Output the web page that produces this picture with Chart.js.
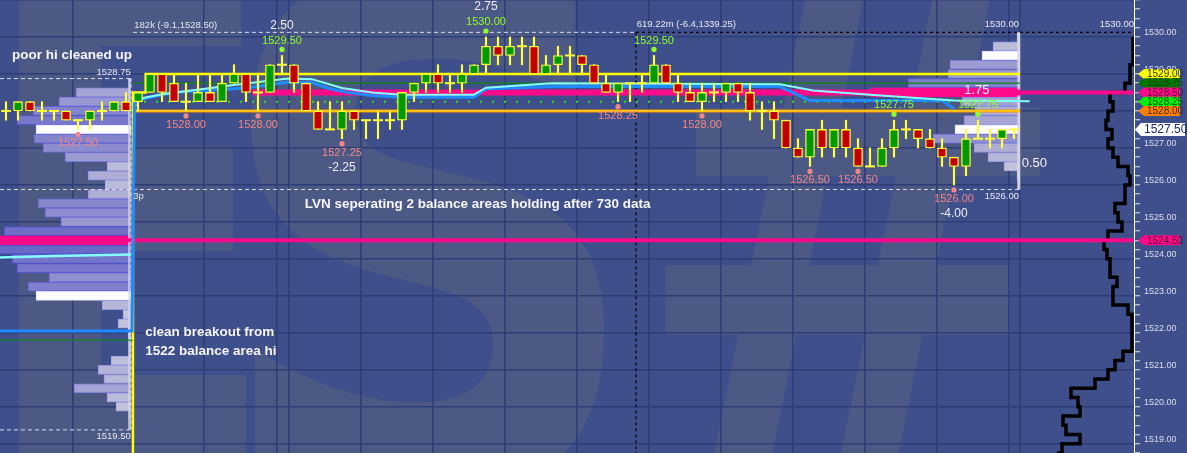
<!DOCTYPE html>
<html>
<head>
<meta charset="utf-8">
<title>ES market profile</title>
<script src="https://cdn.jsdelivr.net/npm/chart.js@4.4.1/dist/chart.umd.min.js"></script>
<style>
  html, body { margin: 0; padding: 0; background: #3e4f8b; overflow: hidden; }
</style>
</head>
<body>
<canvas id="chart" width="1187" height="453"></canvas>
<script>
// one bar per slot, index 0 = first bar on screen
const opens = [
  1528, 1528, 1528.25, 1528, 1528, 1528, 1527.75, 1527.75, 1528, 1528,
  1528.25, 1528.25, 1528.5, 1529, 1528.75, 1528.25, 1528.25, 1528.5, 1528.25, 1528.75,
  1529, 1528.5, 1528.5, 1529.25, 1529.25, 1528.75, 1528, 1527.5, 1527.5, 1528,
  1527.75, 1527.75, 1527.75, 1527.75, 1528.5, 1528.75, 1529, 1528.75, 1528.75, 1529,
  1529.25, 1529.75, 1529.5, 1529.75, 1529.75, 1529, 1529.25, 1529.5, 1529.5, 1529.25,
  1528.75, 1528.5, 1528.75, 1528.75, 1528.75, 1529.25, 1528.75, 1528.5, 1528.25, 1528.5,
  1528.5, 1528.75, 1528.5, 1528, 1528, 1527.75, 1527, 1526.75, 1527.5, 1527,
  1527.5, 1527, 1526.5, 1526.5, 1527, 1527.5, 1527.5, 1527.25, 1527, 1526.75,
  1526.5, 1527.25, 1527.25, 1527.25, 1527.5
];
const highs = [
  1528.25, 1528.25, 1528.25, 1528.25, 1528, 1528, 1527.75, 1528, 1528.25, 1528.25,
  1528.5, 1528.5, 1529, 1529, 1529, 1528.75, 1529, 1529, 1529, 1529.25,
  1529, 1529, 1529.25, 1529.5, 1529.25, 1528.75, 1528.25, 1528.25, 1528.25, 1528,
  1527.75, 1528, 1528, 1528.5, 1528.75, 1529, 1529.25, 1529, 1529.25, 1529.25,
  1530, 1530, 1530, 1530, 1530, 1529.5, 1529.75, 1529.75, 1529.5, 1529.25,
  1529, 1528.75, 1528.75, 1529, 1529.5, 1529.25, 1529, 1528.75, 1528.75, 1528.75,
  1528.75, 1528.75, 1528.75, 1528.25, 1528.25, 1527.75, 1527.25, 1527.5, 1527.75, 1527.5,
  1527.75, 1527.25, 1527, 1527.25, 1527.75, 1527.75, 1527.5, 1527.5, 1527.25, 1526.75,
  1527.5, 1527.75, 1527.5, 1527.5, 1527.5
];
const lows = [
  1527.75, 1527.75, 1528, 1527.75, 1527.75, 1527.75, 1527.5, 1527.5, 1527.75, 1528,
  1528, 1528, 1528.5, 1528.25, 1528.25, 1528, 1528.25, 1528.25, 1528.25, 1528.75,
  1528.25, 1528, 1528.5, 1529, 1528.5, 1528, 1527.5, 1527.5, 1527.25, 1527.5,
  1527.25, 1527.25, 1527.5, 1527.5, 1528.25, 1528.5, 1528.5, 1528.5, 1528.5, 1529,
  1529, 1529.25, 1529.25, 1529.25, 1529, 1529, 1529, 1529, 1529, 1528.75,
  1528.5, 1528.25, 1528.25, 1528.5, 1528.75, 1528.75, 1528.25, 1528.25, 1528, 1528.25,
  1528.25, 1528.25, 1527.75, 1527.5, 1527.25, 1527, 1526.75, 1526.5, 1526.75, 1526.75,
  1526.75, 1526.5, 1526.5, 1526.5, 1526.75, 1527.25, 1527, 1527, 1526.5, 1526,
  1526.25, 1527.25, 1527, 1527, 1527.25
];
const closes = [
  1528, 1528.25, 1528, 1528, 1528, 1527.75, 1527.75, 1528, 1528, 1528.25,
  1528, 1528.5, 1529, 1528.5, 1528.25, 1528.25, 1528.5, 1528.25, 1528.75, 1529,
  1528.5, 1528.5, 1529.25, 1529.25, 1528.75, 1528, 1527.5, 1527.5, 1528, 1527.75,
  1527.75, 1527.75, 1527.75, 1528.5, 1528.75, 1529, 1528.75, 1528.75, 1529, 1529.25,
  1529.75, 1529.5, 1529.75, 1529.75, 1529, 1529.25, 1529.5, 1529.5, 1529.25, 1528.75,
  1528.5, 1528.75, 1528.75, 1528.75, 1529.25, 1528.75, 1528.5, 1528.25, 1528.5, 1528.5,
  1528.75, 1528.5, 1528, 1528, 1527.75, 1527, 1526.75, 1527.5, 1527, 1527.5,
  1527, 1526.5, 1526.5, 1527, 1527.5, 1527.5, 1527.25, 1527, 1526.75, 1526.5,
  1527.25, 1527.25, 1527.25, 1527.5, 1527.5
];

// previous session profile (left)
const leftLevels = [
  1528.75, 1528.5, 1528.25, 1528, 1527.75, 1527.5, 1527.25, 1527, 1526.75, 1526.5,
  1526.25, 1526, 1525.75, 1525.5, 1525.25, 1525, 1524.75, 1524.5, 1524.25, 1524,
  1523.75, 1523.5, 1523.25, 1523, 1522.75, 1522.5, 1522.25, 1522, 1521.75, 1521.5,
  1521.25, 1521, 1520.75, 1520.5, 1520.25, 1520, 1519.75, 1519.5
];
const leftVol = [
  2, 55, 72, 98, 114, 95, 97, 88, 66, 24,
  43, 26, 43, 93, 86, 70, 127, 140, 135, 119,
  114, 82, 103, 95, 29, 8, 13, 3, 2, 2,
  20, 33, 27, 57, 24, 15, 2, 1
];
const leftPoc = 1524.5;
const leftMarked = [1527.5, 1523];

// current session profile (right)
const rightLevels = [1530, 1529.75, 1529.5, 1529.25, 1529, 1528.75, 1528.5, 1528.25, 1528,
  1527.75, 1527.5, 1527.25, 1527, 1526.75, 1526.5, 1526.25, 1526];
const rightVol = [3, 27, 38, 70, 72, 112, 149, 58, 45, 56, 65, 87, 46, 32, 16, 3, 2];
const rightPoc = 1528.5;
const rightMarked = [1529.5, 1527.5];

// composite profile outline (far right)
const compLevels = [
  1530, 1529.75, 1529.5, 1529.25, 1529, 1528.75, 1528.5, 1528.25, 1528, 1527.75,
  1527.5, 1527.25, 1527, 1526.75, 1526.5, 1526.25, 1526, 1525.75, 1525.5, 1525.25,
  1525, 1524.75, 1524.5, 1524.25, 1524, 1523.75, 1523.5, 1523.25, 1523, 1522.75,
  1522.5, 1522.25, 1522, 1521.75, 1521.5, 1521.25, 1521, 1520.75, 1520.5, 1520.25,
  1520, 1519.75, 1519.5, 1519.25, 1519, 1518.75
];
const compVol = [
  1, 1, 1, 4, 4, 9, 24, 21, 26, 28,
  22, 26, 21, 16, 6, 4, 9, 9, 19, 16,
  12, 26, 30, 27, 24, 24, 17, 21, 21, 6,
  2, 2, 2, 2, 11, 19, 26, 39, 63, 56,
  54, 71, 68, 54, 72, 77
];

// vwap style lines, [bar, price]
const vwapBlue = [[-0.5, 1522.05], [10.5, 1522.05], [10.6, 1525], [10.7, 1528.2], [11, 1528.28], [12, 1528.37],
  [14, 1528.5], [19, 1528.6], [21, 1528.66], [23.5, 1528.78], [25.5, 1528.77], [27, 1528.6], [28.5, 1528.5],
  [30.5, 1528.42], [33, 1528.37], [39, 1528.37], [40, 1528.6], [46, 1528.66], [64.5, 1528.66], [67, 1528.28],
  [78, 1528.28], [79, 1528.06]];
const vwapCyan = [[11, 1528.32], [13, 1528.45], [19, 1528.7], [23.5, 1528.88], [25.5, 1528.86], [28, 1528.62],
  [30.5, 1528.5], [33, 1528.44], [39, 1528.44], [40, 1528.63], [45.5, 1528.75], [64.5, 1528.72],
  [67.25, 1528.55], [72, 1528.44], [75, 1528.37], [79, 1528.28], [85.3, 1528.26]];
const prevCyan = [[-0.5, 1524.04], [4, 1524.08], [10.4, 1524.12]];
const prevGreen = [[-0.5, 1521.8], [10.58, 1521.8]];
const ibHighPath = [[10.58, 1518.75], [10.58, 1528.5], [11.64, 1528.5], [11.64, 1529], [84.5, 1529]];

const swingHighBars = [23, 40, 54, 74, 81];
const swingHighDeltas = ['2.50', '2.75', '', '', ''];
const swingLowBars = [6, 15, 21, 28, 51, 58, 67, 71, 79];
const swingLowDeltas = ['', '', '', '-2.25', '', '', '', '', '-4.00'];

const tagPrices = [1529.00, 1528.75, 1528.50, 1528.25, 1528.00, 1527.50, 1524.50];
const tagFill = ['#ffff00', '#007800', '#ff0a8a', '#00ee00', '#ff8000', '#ffffff', '#ff0a8a'];
const tagInk = ['#303030', '#0c3c0c', '#5a0636', '#0a4a0a', '#4a2500', '#1b2a6b', '#5a0636'];
const CURRENT_TAG = 5;

const xGrid = [5.58, 16.5, 22.58, 23.55, 29.58, 35.58, 41.58, 47.58, 53.58, 59.58, 65.58, 71.58, 77.58, 83.58, 84.5];

const notes = [
  { text: 'poor hi cleaned up', bar: 0.5, price: 1529.5 },
  { text: 'LVN seperating 2 balance areas holding after 730 data', bar: 24.9, price: 1525.47 },
  { text: 'clean breakout from', bar: 11.6, price: 1522.02 },
  { text: '1522 balance area hi', bar: 11.6, price: 1521.51 }
];
const infoLabels = [
  { text: '182k (-9.1,1528.50)', bar: 10.69, price: 1530.31, align: 'left' },
  { text: '619.22m (-6.4,1339.25)', bar: 52.56, price: 1530.33, align: 'left' },
  { text: '1530.00', bar: 84.42, price: 1530.33, align: 'right' },
  { text: '1530.00', bar: 94, price: 1530.33, align: 'right' },
  { text: '1526.00', bar: 84.42, price: 1525.7, align: 'right' },
  { text: '1528.75', bar: 10.4, price: 1529.05, align: 'right' },
  { text: '1519.50', bar: 10.4, price: 1519.21, align: 'right' },
  { text: '3p', bar: 10.6, price: 1525.69, align: 'left' }
];
const hiddenLabels = [
  { text: '1528.50', bar: 10.9, price: 1528.15, align: 'right' }
];
const bigLabels = [
  { text: '1.75', bar: 80.9, price: 1528.55, align: 'center' },
  { text: '0.50', bar: 84.64, price: 1526.59, align: 'left' }
];

// watermark logo glyphs and the boxes they fill (canvas px)
const watermark = [
  { ch: 'E', box: [18, -60, 246, 480] },
  { ch: 'S', box: [250, -40, 606, 500] },
  { ch: '#', box: [664, -15, 1040, 462] }
];

const X_MIN = -0.5, X_MAX = 94, Y_MIN = 1518.75, Y_MAX = 1531;
const R_ANCHOR = 84.5, L_ANCHOR = 10.42;
const U = 12; // profile units per bar slot

const BG = '#3e4f8b', GRID = '#2f3d77';
const UP = '#009a00', DN = '#c20000', WICK = '#ffff3c';
const HI_COL = '#8cff28', LO_COL = '#f48888';

Chart.defaults.font.family = '"Liberation Sans", Arial, sans-serif';

const idx = opens.map((_, i) => i);
const pts = arr => arr.map(p => ({ x: p[0], y: p[1] }));

function line(points, color, width, order, extra) {
  return Object.assign({
    type: 'line', data: points, borderColor: color, borderWidth: width,
    pointRadius: 0, fill: false, tension: 0, order, xAxisID: 'x', yAxisID: 'y'
  }, extra || {});
}
function hline(price, from, to, color, width, order, dash) {
  return line([{ x: from, y: price }, { x: to, y: price }], color, width, order, { borderDash: dash || [] });
}
function vline(bar, from, to, color, width, order, dash) {
  return line([{ x: bar, y: from }, { x: bar, y: to }], color, width, order, { borderDash: dash || [] });
}

function shade(v, maxV, light) {
  const t = Math.min(1, v / maxV);
  if (light) return `rgb(${Math.round(175 - 110 * t)},${Math.round(175 - 110 * t)},${Math.round(228 - 20 * t)})`;
  return `rgb(${Math.round(205 - 105 * t)},${Math.round(205 - 105 * t)},${Math.round(222 - 25 * t)})`;
}

function profile(levels, vols, axisId, poc, marked, order) {
  const maxV = Math.max(...vols);
  return {
    type: 'bar', indexAxis: 'y', xAxisID: axisId, yAxisID: 'y', grouped: false, order,
    data: levels.map((p, k) => ({ y: p, x: [0, vols[k]] })),
    barThickness: 9, borderWidth: 1, borderSkipped: false,
    backgroundColor: c => {
      const p = levels[c.dataIndex];
      if (p === poc) return '#ff0a8a';
      if (marked.includes(p)) return '#ffffff';
      return shade(vols[c.dataIndex], maxV, false);
    },
    borderColor: c => {
      const p = levels[c.dataIndex];
      if (p === poc) return '#ff0a8a';
      if (marked.includes(p)) return '#d8d8ff';
      return shade(vols[c.dataIndex], maxV, true);
    }
  };
}

function profileAxis(anchor) {
  return {
    type: 'linear', display: false, reverse: true, offset: false, beginAtZero: false,
    min: -(X_MAX - anchor) * U, max: (anchor - X_MIN) * U, grid: { offset: false }
  };
}

const isWhole = v => Math.abs(v - Math.round(v)) < 1e-6;

function drawText(c, s, x, y, color, font, align) {
  c.font = font;
  c.fillStyle = color;
  c.textAlign = align;
  c.textBaseline = 'middle';
  c.fillText(s, x, y);
}
function dot(c, x, y, color) {
  c.beginPath();
  c.arc(x, y, 2.6, 0, Math.PI * 2);
  c.fillStyle = color;
  c.fill();
}
// stretch one glyph so its ink fills the given box
function glyph(c, ch, box) {
  c.font = 'bold 200px "DejaVu Sans"';
  c.textAlign = 'left';
  c.textBaseline = 'alphabetic';
  const m = c.measureText(ch);
  const gw = m.actualBoundingBoxLeft + m.actualBoundingBoxRight;
  const gh = m.actualBoundingBoxAscent + m.actualBoundingBoxDescent;
  c.save();
  c.translate(box[0], box[1]);
  c.scale((box[2] - box[0]) / gw, (box[3] - box[1]) / gh);
  c.fillText(ch, m.actualBoundingBoxLeft, m.actualBoundingBoxAscent);
  c.restore();
}

const overlay = {
  id: 'overlay',
  beforeDraw(chart) {
    const c = chart.ctx, a = chart.chartArea;
    c.save();
    c.fillStyle = BG;
    c.fillRect(0, 0, chart.width, chart.height);
    c.beginPath();
    c.rect(a.left, a.top, a.right - a.left, a.bottom - a.top);
    c.clip();
    c.fillStyle = 'rgba(112,112,118,0.3)';
    watermark.forEach(w => glyph(c, w.ch, w.box));
    c.restore();
  },
  beforeDatasetsDraw(chart) {
    const c = chart.ctx, sx = chart.scales.x, sy = chart.scales.y;
    c.save();
    hiddenLabels.forEach(l => drawText(c, l.text, sx.getPixelForValue(l.bar), sy.getPixelForValue(l.price),
      '#e8e8f2', '9.5px "Liberation Sans"', l.align));
    c.restore();
  },
  afterDatasetsDraw(chart) {
    const c = chart.ctx, sx = chart.scales.x, sy = chart.scales.y;
    const X = v => sx.getPixelForValue(v), Y = v => sy.getPixelForValue(v);
    c.save();
    swingHighBars.forEach((b, k) => {
      const px = X(b), py = Y(highs[b]);
      dot(c, px, py - 6, HI_COL);
      drawText(c, highs[b].toFixed(2), px, py - 15, HI_COL, '11px "Liberation Sans"', 'center');
      if (swingHighDeltas[k]) drawText(c, swingHighDeltas[k], px, py - 30, '#eeeef6', '12px "Liberation Sans"', 'center');
    });
    swingLowBars.forEach((b, k) => {
      const px = X(b), py = Y(lows[b]);
      dot(c, px, py + 5, LO_COL);
      drawText(c, lows[b].toFixed(2), px, py + 14, LO_COL, '11px "Liberation Sans"', 'center');
      if (swingLowDeltas[k]) drawText(c, swingLowDeltas[k], px, py + 29, '#eeeef6', '12px "Liberation Sans"', 'center');
    });
    infoLabels.forEach(l => drawText(c, l.text, X(l.bar), Y(l.price), '#e8e8f2', '9.5px "Liberation Sans"', l.align));
    bigLabels.forEach(l => drawText(c, l.text, X(l.bar), Y(l.price), '#f2f2fa', '13px "Liberation Sans"', l.align));
    notes.forEach(n => drawText(c, n.text, X(n.bar), Y(n.price), '#f6f6ff', 'bold 13.5px "Liberation Sans"', 'left'));
    c.restore();
  },
  afterDraw(chart) {
    const c = chart.ctx, sy = chart.scales.y, right = chart.chartArea.right;
    c.save();
    tagPrices.forEach((p, k) => {
      const big = k === CURRENT_TAG;
      const yc = sy.getPixelForValue(p);
      const h = big ? 13 : 10;
      const x0 = right + (big ? 1 : 4), x1 = right + (big ? 51 : 46);
      c.beginPath();
      c.moveTo(x0, yc);
      c.lineTo(x0 + 6, yc - h / 2);
      c.lineTo(x1, yc - h / 2);
      c.lineTo(x1, yc + h / 2);
      c.lineTo(x0 + 6, yc + h / 2);
      c.closePath();
      c.fillStyle = tagFill[k];
      c.fill();
      drawText(c, p.toFixed(2), x0 + 9, yc + 0.5, tagInk[k], (big ? 12 : 10) + 'px "Liberation Sans"', 'left');
    });
    c.restore();
  }
};

const datasets = [
  // candles
  {
    type: 'scatter', order: 1, xAxisID: 'x', yAxisID: 'y',
    data: idx.filter(i => opens[i] === closes[i]).map(i => ({ x: i, y: closes[i] })),
    pointStyle: 'line', pointRadius: 5, borderColor: WICK, borderWidth: 2, backgroundColor: WICK
  },
  {
    type: 'bar', order: 2, xAxisID: 'x', yAxisID: 'y', grouped: false,
    data: idx.filter(i => opens[i] !== closes[i]).map(i => ({ x: i, y: [opens[i], closes[i]] })),
    barThickness: 9, borderWidth: 1.3, borderSkipped: false, borderColor: WICK,
    backgroundColor: c => (c.raw && c.raw.y[1] > c.raw.y[0]) ? UP : DN
  },
  {
    type: 'bar', order: 3, xAxisID: 'x', yAxisID: 'y', grouped: false,
    data: idx.map(i => ({ x: i, y: [lows[i], highs[i]] })),
    barThickness: 1.5, borderWidth: 0, backgroundColor: WICK
  },
  // lines
  line(pts(vwapCyan), '#86ffff', 2, 10),
  line(pts(vwapBlue), '#1e8cff', 3, 11),
  line(pts(prevCyan), '#86ffff', 2.5, 12),
  line(pts(prevGreen), '#0a8a0a', 1, 12),
  line(pts(ibHighPath), '#ffff00', 2.5, 13),
  hline(1528, 10.58, 84.5, '#ffee20', 1, 13),
  hline(1528, 10.58, 84.5, '#ff9400', 3, 14),
  hline(1528.75, 10.58, 84.5, '#0a8a0a', 1.2, 14),
  hline(1528.25, 11.5, 84.5, '#28e028', 2, 14, [2, 10]),
  hline(1528.5, 20.5, R_ANCHOR, '#ff0a8a', 6, 15),
  hline(1528.5, R_ANCHOR, X_MAX, '#ff0a8a', 4, 15),
  hline(1524.5, X_MIN, X_MAX, '#ff0a8a', 4, 15),
  hline(1530.125, 10.58, 52.5, 'rgba(235,235,245,0.9)', 1, 16, [4, 3]),
  hline(1530.125, 52.5, X_MAX, '#000000', 1.2, 16, [3, 3]),
  vline(52.5, 1530.125, Y_MIN, '#000000', 1.2, 16, [3, 3]),
  hline(1525.875, X_MIN, R_ANCHOR, 'rgba(235,235,245,0.9)', 1, 16, [4, 3]),
  hline(1528.875, X_MIN, L_ANCHOR, 'rgba(235,235,245,0.9)', 1, 16, [4, 3]),
  hline(1519.375, X_MIN, L_ANCHOR, 'rgba(235,235,245,0.9)', 1, 16, [4, 3]),
  vline(L_ANCHOR, 1528.875, 1519.375, 'rgba(235,235,245,0.9)', 1, 16, [3, 3]),
  vline(R_ANCHOR - 0.1, 1530.125, 1525.875, 'rgba(215,215,228,0.9)', 3, 17),
  vline(L_ANCHOR - 0.15, 1528.875, 1519.375, 'rgba(215,215,228,0.7)', 2.5, 17),
  // composite outline
  {
    type: 'line', order: 18, xAxisID: 'xC', yAxisID: 'y',
    data: compLevels.map((p, k) => ({ x: compVol[k], y: p })),
    borderColor: '#000000', borderWidth: 3.5, pointRadius: 0, stepped: 'after', fill: false
  },
  // profiles
  profile(rightLevels, rightVol, 'xR', rightPoc, rightMarked, 50),
  profile(leftLevels, leftVol, 'xL', leftPoc, leftMarked, 51)
];

new Chart(document.getElementById('chart'), {
  type: 'scatter',
  data: { datasets },
  options: {
    responsive: false,
    animation: false,
    events: [],
    layout: { padding: 0, autoPadding: false },
    plugins: { legend: { display: false }, tooltip: { enabled: false } },
    scales: {
      x: {
        type: 'linear', min: X_MIN, max: X_MAX, offset: false, beginAtZero: false,
        afterBuildTicks: s => { s.ticks = xGrid.map(v => ({ value: v })); },
        ticks: { display: false },
        grid: { color: GRID, drawTicks: false, offset: false, lineWidth: 1.5 },
        border: { display: false },
        afterFit: s => { s.height = 0; s.paddingLeft = 0; s.paddingRight = 0; }
      },
      xR: profileAxis(R_ANCHOR),
      xL: profileAxis(L_ANCHOR),
      xC: profileAxis(X_MAX),
      y: {
        type: 'linear', position: 'right', min: Y_MIN, max: Y_MAX, offset: false, beginAtZero: false,
        ticks: {
          stepSize: 0.25, autoSkip: false, color: '#dedeee', padding: 4, labelOffset: -4,
          font: { size: 9 },
          callback: v => (isWhole(v) && v <= 1530.5) ? Number(v).toFixed(2) : ''
        },
        grid: {
          offset: false, lineWidth: 1.5, tickLength: 6, tickColor: '#e6e6f2', tickWidth: 1,
          color: c => (c.tick && isWhole(c.tick.value)) ? GRID : 'rgba(0,0,0,0)'
        },
        border: { color: '#ffffff', width: 1 },
        afterFit: s => { s.width = 53; s.paddingTop = 0; s.paddingBottom = 0; }
      }
    }
  },
  plugins: [overlay]
});
</script>
</body>
</html>
